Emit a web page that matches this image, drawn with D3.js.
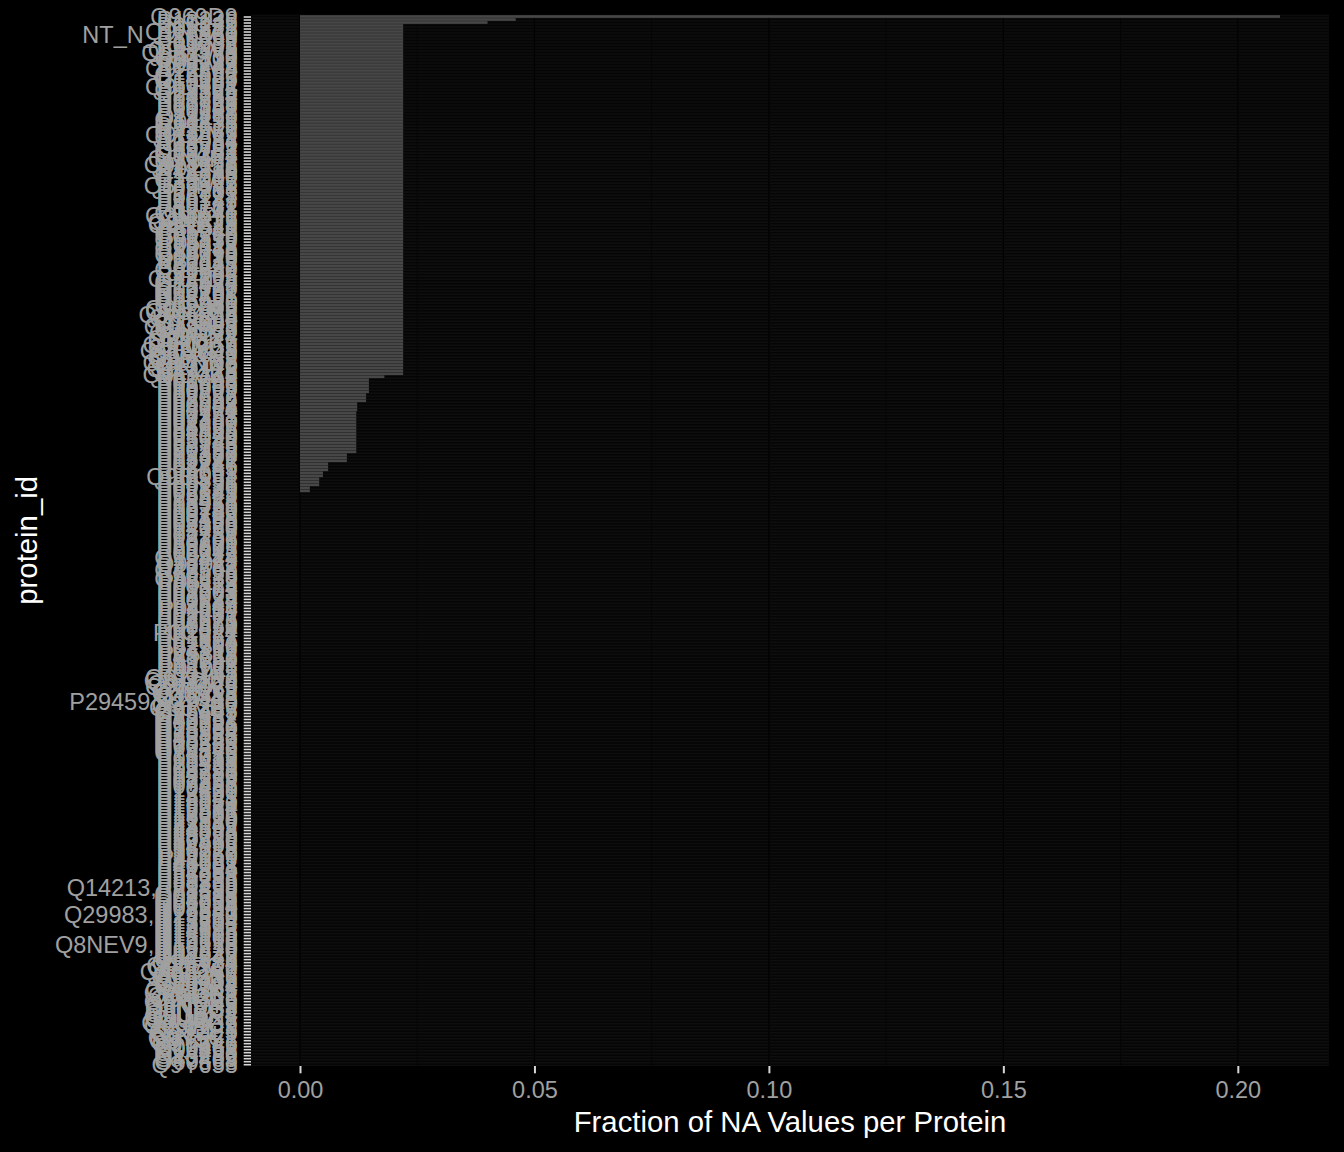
<!DOCTYPE html>
<html>
<head>
<meta charset="utf-8">
<script src="https://cdn.jsdelivr.net/npm/d3@7"></script>
<style>
  html, body { margin: 0; padding: 0; background: #000; }
  svg { display: block; }
</style>
</head>
<body>
<svg id="chart" width="1344" height="1152"></svg>
<script>
// ---------------- data ----------------
const proteins = [
  "Q969D9","P13236","P10145","P05231","P01375","Q9NSA1","NT_N_P16860","P80098","P15692","P01732",
  "P39905","Q9H5V8","Q9BZW8","P13232","O00300","P01137","P00749","Q9P0M4","P13500","Q16552",
  "O14625","O15169","P50591","Q9UHF4","Q07325","P28325","P14784","P01583","P13725","P60568",
  "P09341","P30203","P21583","Q14116","Q13291","P01135","Q99616","P51671","O43557","Q9GZV9",
  "Q13651","P12034","P03956","P42702","Q99731","Q13261","Q08334","Q8N6P7","Q13478","Q9NZQ7",
  "P01138","P42830","O14788","P14210","Q13007","P35225","Q5T4W7","P09238","P22301","P55773",
  "P06127","P10147","P49771","P80162","P02778","Q13541","Q9NYY1","Q8IXJ6","Q9NRJ3","Q8NFT8",
  "P80511","P25942","O95760","P01579","O95750","P05112","P15018","Q99748","P80075","Q14790",
  "P00918","P32119","P30043","P62937","Q06830","P31944","P22105","Q96PD5","Q14624","Q15485",
  "O75636","O00187","O14791","Q92496","Q03591","P36980","Q02985","Q9BXR6","Q6UXB8","Q9UGM5",
  "Q8NBJ4","Q13790","Q12805","Q9NPH3","O43866","Q8IWV2","Q96IY4","Q86UX7","Q9Y6R7","Q9HDC9",
  "Q9UK55","Q9BWP8","Q5VY43","Q96KN2","Q9BY67","Q9UNN8","Q13740","Q9NZP8","Q14118","Q6EMK4",
  "P02748","P01008","P05546","P08603","P10909","P06727","P02652","P02656","P03952","P00748",
  "P04004","P02774","P00751","P07358","P07357","P02760","P08697","P36955","P04196","P01042",
  "P05090","P35542","P02743","P27169","P00739","P22352","P07360","P13671","P02747","P02746",
  "P02745","P06681","P04003","Q9BQ51","P20851","P05156","P00736","P09871","P02749","P05543",
  "P29622","P18428","P03951","P12259","P00740","P00742","P08709","P00488","P05160","P07225",
  "P04070","P13796","P07737","P02751","P18206","P60709","P68871","P69905","P02042","P00915",
  "O15444","P78423","Q07011","P20783","O43508","P78556","P50225","O95630","P05113","P00813",
  "P01374","P09603","P02768","P01023","P00734","P02647","P02649","P04114","P01009","P02787",
  "P02671","P02675","P02679","P00450","P01024","P0C0L4","P01871","P01857","P01834","P02790",
  "P02766","P04217","P25311","P43652","P02750","P19652","P02763","P01011","P05155","P00747",
  "Q6YHK3","Q8TDQ0","Q9H4A4","Q9NQ79","Q99969","Q76LX8","Q15582","Q15113","P29459,P29460","Q9Y240",
  "Q86VB7","O95445","O95497","O75882","O43852","O00391","O14786","O95980","O75594","O60888",
  "O43157","O15240","O00533","O60462","O75340","O14773","P16035","P01033","P19438","P20333",
  "P05121","P08253","P14780","P03973","P07339","P07858","P09486","P10451","P12830","P13591",
  "P14543","P15151","P16070","P16284","P16581","P17936","P18065","P19320","P21810","P23142",
  "P24592","P24593","P26022","P28799","P30530","P32455","P34096","P35318","P36222","P39060",
  "P41159","P43121","P48061","P49908","P51884","P54289","P55058","P55285","P58335","P61769",
  "Q14213,P29459","P78380","Q01638","Q02388","Q04756","Q06033","Q07954","Q08380","Q12841","Q29983,Q29980",
  "Q12860","Q13214","Q13308","Q13822","Q14393","Q14515","Q15109","Q15166","Q16610","Q8NEV9,Q14213",
  "Q16270","Q92520","Q92626","Q92743","Q92876","Q96A84","Q96BQ1","Q96DA0","Q96GW7","Q96JB6",
  "Q96S86","Q99435","Q99674","Q99784","Q9BRK3","Q9BUN1","Q9H0B8","Q9H8L6","Q9HCB6","Q9NPY3",
  "Q9NQ38","Q9NZC2","Q9UBP4","Q9UBR2","Q9UBX7","Q9UHG2","Q9UKU9","Q9ULI3","Q9Y2E5","Q9Y4L1",
  "Q9Y5C1","Q9Y5Y7","Q9Y646","O00462","O00468","O14498","O15232","O43405","O60568","Q9Y653"
];

const naFraction = [
  0.209, 0.046, 0.040,
  0.022, 0.022, 0.022, 0.022, 0.022, 0.022, 0.022, 0.022, 0.022, 0.022,
  0.022, 0.022, 0.022, 0.022, 0.022, 0.022, 0.022, 0.022, 0.022, 0.022,
  0.022, 0.022, 0.022, 0.022, 0.022, 0.022, 0.022, 0.022, 0.022, 0.022,
  0.022, 0.022, 0.022, 0.022, 0.022, 0.022, 0.022, 0.022, 0.022, 0.022,
  0.022, 0.022, 0.022, 0.022, 0.022, 0.022, 0.022, 0.022, 0.022, 0.022,
  0.022, 0.022, 0.022, 0.022, 0.022, 0.022, 0.022, 0.022, 0.022, 0.022,
  0.022, 0.022, 0.022, 0.022, 0.022, 0.022, 0.022, 0.022, 0.022, 0.022,
  0.022, 0.022, 0.022, 0.022, 0.022, 0.022, 0.022, 0.022, 0.022, 0.022,
  0.022, 0.022, 0.022, 0.022, 0.022, 0.022, 0.022, 0.022, 0.022, 0.022,
  0.022, 0.022, 0.022, 0.022, 0.022, 0.022, 0.022, 0.022, 0.022, 0.022,
  0.022, 0.022, 0.022, 0.022, 0.022, 0.022, 0.022, 0.022, 0.022, 0.022,
  0.022, 0.022, 0.022, 0.022, 0.022, 0.022, 0.022,
  0.018,
  0.0147, 0.0147, 0.0147, 0.0147, 0.0147,
  0.0141, 0.0141, 0.0141,
  0.0122, 0.0122, 0.0122,
  0.0120, 0.0120, 0.0120, 0.0120, 0.0120, 0.0120, 0.0120,
  0.0120, 0.0120, 0.0120, 0.0120, 0.0120, 0.0120, 0.0120,
  0.0100, 0.0100, 0.0100,
  0.0060, 0.0060, 0.0060,
  0.0049, 0.0049,
  0.0041, 0.0041, 0.0041,
  0.0021, 0.0021,
  0, 0, 0, 0, 0, 0, 0, 0, 0, 0,
  0, 0, 0, 0, 0, 0, 0, 0, 0, 0,
  0, 0, 0, 0, 0, 0, 0, 0, 0, 0,
  0, 0, 0, 0, 0, 0, 0, 0, 0, 0,
  0, 0, 0, 0, 0, 0, 0, 0, 0, 0,
  0, 0, 0, 0, 0, 0, 0, 0, 0, 0,
  0, 0, 0, 0, 0, 0, 0, 0, 0, 0,
  0, 0, 0, 0, 0, 0, 0, 0, 0, 0,
  0, 0, 0, 0, 0, 0, 0, 0, 0, 0,
  0, 0, 0, 0, 0, 0, 0, 0, 0, 0,
  0, 0, 0, 0, 0, 0, 0, 0, 0, 0,
  0, 0, 0, 0, 0, 0, 0, 0, 0, 0,
  0, 0, 0, 0, 0, 0, 0, 0, 0, 0,
  0, 0, 0, 0, 0, 0, 0, 0, 0, 0,
  0, 0, 0, 0, 0, 0, 0, 0, 0, 0,
  0, 0, 0, 0, 0, 0, 0, 0, 0, 0,
  0, 0, 0, 0, 0, 0, 0, 0, 0, 0,
  0, 0, 0, 0, 0, 0, 0, 0, 0, 0,
  0, 0, 0, 0, 0, 0, 0, 0, 0, 0,
  0
];

const xTicks = [0, 0.05, 0.10, 0.15, 0.20];
const xMinorTicks = [0.025, 0.075, 0.125, 0.175];
const xTitle = "Fraction of NA Values per Protein";
const yTitle = "protein_id";

// ---------------- layout ----------------
const W = 1344, H = 1152;
const panel = { left: 251, right: 1329, top: 14.7, bottom: 1066 };
const FONT = "'Liberation Sans', Arial, Helvetica, sans-serif";

const svg = d3.select("#chart").attr("width", W).attr("height", H);
svg.append("rect").attr("width", W).attr("height", H).attr("fill", "#000");

const n = Math.min(proteins.length, naFraction.length);
const idx = d3.range(n);

const xmax = d3.max(naFraction);
const pad = xmax * 0.05;
const x = d3.scaleLinear().domain([-pad, xmax + pad]).range([panel.left, panel.right]);
const y = d3.scalePoint().domain(idx).range([panel.top, panel.bottom]).padding(0.6);
const step = y.step();
const barH = step * 0.9;

// panel background
svg.append("rect")
  .attr("x", panel.left).attr("y", panel.top)
  .attr("width", panel.right - panel.left).attr("height", panel.bottom - panel.top)
  .attr("fill", "#0e0e0e");

const grid = svg.append("g");
// minor vertical
grid.selectAll("line.vmin").data(xMinorTicks).join("line")
  .attr("x1", d => x(d)).attr("x2", d => x(d))
  .attr("y1", panel.top).attr("y2", panel.bottom)
  .attr("stroke", "#030303").attr("stroke-width", 0.7);
// major vertical
grid.selectAll("line.vmaj").data(xTicks).join("line")
  .attr("x1", d => x(d)).attr("x2", d => x(d))
  .attr("y1", panel.top).attr("y2", panel.bottom)
  .attr("stroke", "#000").attr("stroke-width", 1.3);
// major horizontal (one per category)
grid.selectAll("line.h").data(idx).join("line")
  .attr("x1", panel.left).attr("x2", panel.right)
  .attr("y1", i => y(i)).attr("y2", i => y(i))
  .attr("stroke", "#050505").attr("stroke-width", 1.4);

// bars
svg.append("g").selectAll("rect").data(idx).join("rect")
  .attr("x", x(0))
  .attr("y", i => y(i) - barH / 2)
  .attr("width", i => Math.max(0, x(naFraction[i]) - x(0)))
  .attr("height", barH)
  .attr("fill", "#474747");

// y axis
const yAxis = svg.append("g")
  .attr("transform", `translate(${panel.left},0)`)
  .call(d3.axisLeft(y).tickSize(7.3).tickPadding(5.9).tickFormat(i => proteins[i]));
yAxis.select(".domain").remove();
yAxis.selectAll(".tick line").attr("stroke", "#d6d6d6").attr("stroke-width", 1.6);
yAxis.selectAll(".tick text")
  .attr("fill", "#a0a0a0")
  .attr("dy", "0.36em")
  .style("font-family", FONT).style("font-size", "23.5px");

// x axis
const xAxis = svg.append("g")
  .attr("transform", `translate(0,${panel.bottom})`)
  .call(d3.axisBottom(x).tickValues(xTicks).tickSize(7.3).tickPadding(5.9).tickFormat(d3.format(".2f")));
xAxis.select(".domain").remove();
xAxis.selectAll(".tick line").attr("stroke", "#d6d6d6").attr("stroke-width", 2);
xAxis.selectAll(".tick text")
  .attr("fill", "#a0a0a0")
  .attr("dy", "0.78em")
  .style("font-family", FONT).style("font-size", "23.5px");

// titles
svg.append("text")
  .attr("x", (panel.left + panel.right) / 2).attr("y", 1132)
  .attr("text-anchor", "middle")
  .attr("fill", "#ffffff")
  .style("font-family", FONT).style("font-size", "29.3px")
  .text(xTitle);

svg.append("text")
  .attr("transform", `translate(37,${(panel.top + panel.bottom) / 2}) rotate(-90)`)
  .attr("text-anchor", "middle")
  .attr("fill", "#ffffff")
  .style("font-family", FONT).style("font-size", "29.3px")
  .text(yTitle);
</script>
</body>
</html>
